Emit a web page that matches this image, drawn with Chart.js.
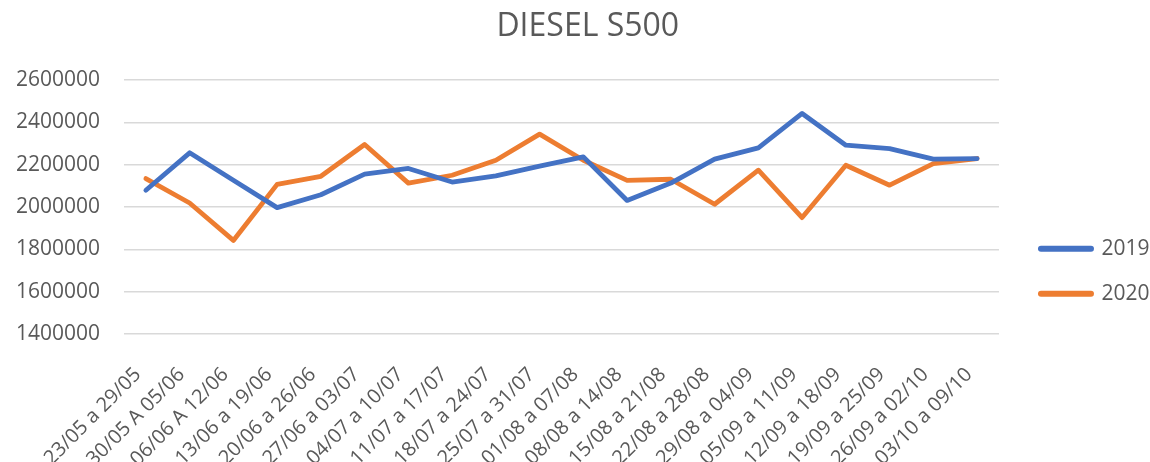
<!DOCTYPE html>
<html>
<head>
<meta charset="utf-8">
<script src="https://cdn.jsdelivr.net/npm/chart.js@4/dist/chart.umd.min.js"></script>
<style>
  html, body { margin: 0; padding: 0; background: #ffffff; }
  #wrap { width: 1150px; height: 462px; position: relative; }
</style>
</head>
<body>
<div id="wrap"><canvas id="chart"></canvas></div>
<script>
// Weekly DIESEL S500 volumes, same weeks of 2019 and 2020
const weeks = [
  '23/05 a 29/05', '30/05 A 05/06', '06/06 A 12/06', '13/06 a 19/06', '20/06 a 26/06',
  '27/06 a 03/07', '04/07 a 10/07', '11/07 a 17/07', '18/07 a 24/07', '25/07 a 31/07',
  '01/08 a 07/08', '08/08 a 14/08', '15/08 a 21/08', '22/08 a 28/08', '29/08 a 04/09',
  '05/09 a 11/09', '12/09 a 18/09', '19/09 a 25/09', '26/09 a 02/10', '03/10 a 09/10'
];
const values2019 = [
  2079000, 2256000, 2126000, 1997000, 2058000, 2155000, 2182000, 2118000, 2147000, 2193000,
  2237000, 2031000, 2113000, 2226000, 2279000, 2442000, 2292000, 2276000, 2226000, 2229000
];
const values2020 = [
  2134000, 2019000, 1842000, 2107000, 2145000, 2295000, 2113000, 2150000, 2221000, 2344000,
  2221000, 2126000, 2131000, 2013000, 2174000, 1950000, 2197000, 2103000, 2205000, 2229000
];
const seriesNames = ['2019', '2020'];
const yMin = 1400000;
const yMax = 2600000;
const yStep = 200000;

const textColor = '#595959';
Chart.defaults.font.family = "'Open Sans', sans-serif";
Chart.defaults.color = textColor;

const lineStyle = {
  borderWidth: 4.8,
  tension: 0,
  pointRadius: 0,
  pointHoverRadius: 0,
  borderCapStyle: 'round',
  borderJoinStyle: 'round',
  fill: false
};

new Chart(document.getElementById('chart'), {
  type: 'line',
  data: {
    labels: weeks,
    datasets: [
      Object.assign({ label: seriesNames[0], data: values2019, borderColor: '#4472C4', backgroundColor: '#4472C4' }, lineStyle),
      Object.assign({ label: seriesNames[1], data: values2020, borderColor: '#ED7D31', backgroundColor: '#ED7D31' }, lineStyle)
    ]
  },
  options: {
    responsive: true,
    maintainAspectRatio: false,
    animation: false,
    layout: { padding: { left: 16, right: -9.5, top: 0, bottom: 0 } },
    plugins: {
      tooltip: { enabled: false },
      title: {
        display: true,
        text: 'DIESEL S500',
        color: textColor,
        font: { size: 32, weight: 'normal' },
        padding: { top: 8, bottom: 33.6 }
      },
      legend: {
        position: 'right',
        align: 'center',
        title: { display: true, text: '', font: { size: 12 }, padding: { top: 66, bottom: 0 } },
        labels: {
          color: textColor,
          font: { size: 21 },
          padding: 24,
          usePointStyle: true,
          pointStyleWidth: 50,
          generateLabels(chart) {
            return Chart.defaults.plugins.legend.labels.generateLabels(chart).map(item =>
              Object.assign(item, { pointStyle: 'line', lineWidth: 6, lineCap: 'round' }));
          }
        }
      }
    },
    scales: {
      x: {
        type: 'category',
        offset: true,
        grid: { display: false, drawTicks: false },
        border: { display: false },
        ticks: {
          color: textColor,
          font: { size: 20 },
          maxRotation: 45,
          minRotation: 45,
          autoSkip: false,
          padding: 29,
          labelOffset: -8
        },
        afterFit(scale) {
          // rotated labels hang below/left into the free space; keep a fixed band
          scale.height = 128;
          scale.paddingLeft = 0;
          scale.paddingRight = 0;
        }
      },
      y: {
        type: 'linear',
        min: yMin,
        max: yMax,
        grid: { color: '#D9D9D9', lineWidth: 1.5, drawTicks: false },
        border: { display: false },
        ticks: {
          stepSize: yStep,
          color: textColor,
          font: { size: 21 },
          padding: 24,
          callback: v => String(v)
        },
        afterFit(scale) { scale.width = 108; }
      },
      gap: {
        type: 'linear',
        position: 'right',
        display: true,
        grid: { display: false, drawTicks: false },
        border: { display: false },
        ticks: { display: false },
        afterFit(scale) { scale.width = 18; }
      }
    }
  }
});
</script>
</body>
</html>
